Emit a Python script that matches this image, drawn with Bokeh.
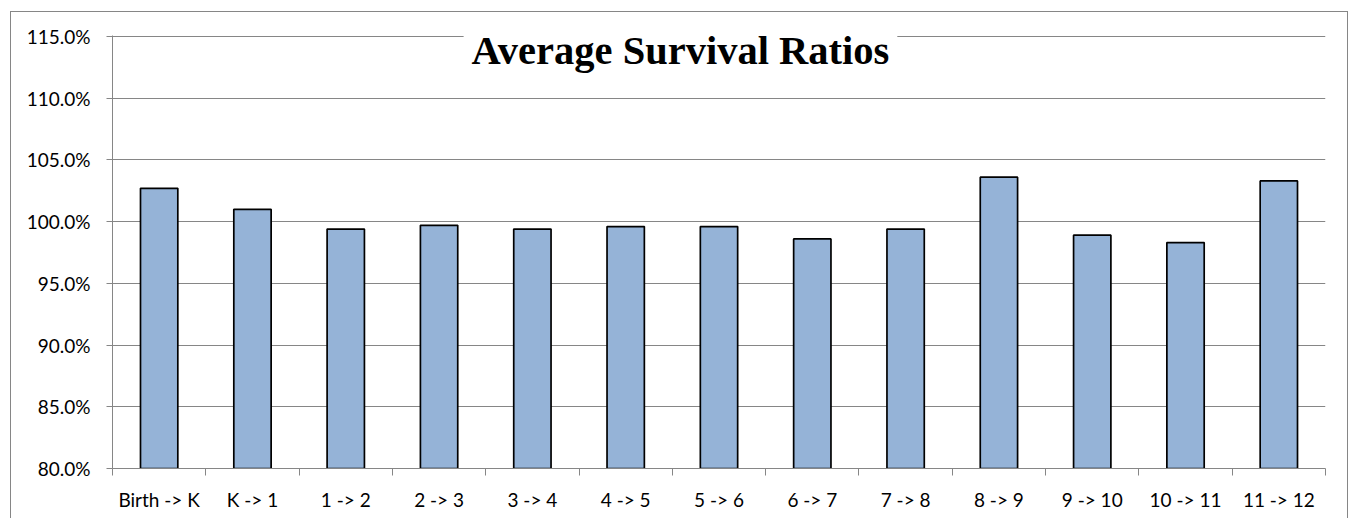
from bokeh.plotting import figure
from bokeh.models import (Range1d, LinearAxis, FixedTicker, NumeralTickFormatter, Label,
                          ColumnDataSource, InlineStyleSheet)
from bokeh.embed import file_html
from bokeh.resources import INLINE

# ---- data ----
categories = ["Birth -> K", "K -> 1", "1 -> 2", "2 -> 3", "3 -> 4", "4 -> 5", "5 -> 6",
              "6 -> 7", "7 -> 8", "8 -> 9", "9 -> 10", "10 -> 11", "11 -> 12"]
ratios = [1.027, 1.010, 0.994, 0.997, 0.994, 0.996, 0.996, 0.986, 0.994, 1.036, 0.989, 0.983, 1.033]
y_ticks = [0.80, 0.85, 0.90, 0.95, 1.00, 1.05, 1.10, 1.15]
title_text = "Average Survival Ratios"

GRID = "#868686"
LABEL_FONT = "Lato"

n = len(categories)
centers = [i + 0.5 for i in range(n)]
bounds = list(range(n + 1))
src = ColumnDataSource(dict(x=centers, top=ratios, cat=categories))

p = figure(width=1349, height=518, output_backend="svg", toolbar_location=None,
           x_range=Range1d(0, n), y_range=Range1d(y_ticks[0], y_ticks[-1] + 0.0008),
           x_axis_location=None, y_axis_location=None,
           min_border_left=112, min_border_right=24, min_border_top=35, min_border_bottom=50)
p.outline_line_color = None
p.background_fill_color = "white"
p.border_fill_color = "white"
p.stylesheets = [InlineStyleSheet(css="""
:host { position: relative; }
:host::after { content: ''; position: absolute; left: 10px; top: 11px; width: 1338px; height: 507px;
  border: 1px solid #868686; border-bottom: none; box-sizing: border-box; pointer-events: none; z-index: 50; }
""")]

# y axis
yax = LinearAxis(ticker=FixedTicker(ticks=y_ticks), formatter=NumeralTickFormatter(format="0.0%"))
yax.axis_line_color = GRID
yax.major_tick_line_color = GRID
yax.major_tick_out = 6
yax.major_tick_in = 0
yax.minor_tick_line_color = None
yax.major_label_text_font = LABEL_FONT
yax.major_label_text_font_size = "19px"
yax.major_label_text_color = "black"
yax.major_label_standoff = 16
p.add_layout(yax, "left")

# category axis: labels at category centres, tick marks at category boundaries
cax = LinearAxis(ticker=FixedTicker(ticks=centers, minor_ticks=bounds),
                 major_label_overrides={c: lab for c, lab in zip(centers, categories)})
cax.axis_line_color = GRID
cax.major_tick_line_color = None
cax.major_tick_out = 7
cax.major_tick_in = 0
cax.minor_tick_line_color = GRID
cax.minor_tick_out = 7
cax.minor_tick_in = 0
cax.major_label_text_font = LABEL_FONT
cax.major_label_text_font_size = "19px"
cax.major_label_text_color = "black"
cax.major_label_standoff = 12
p.add_layout(cax, "below")

p.xgrid.visible = False
p.ygrid.ticker = FixedTicker(ticks=y_ticks)
p.ygrid.grid_line_color = GRID
p.ygrid.grid_line_width = 1

p.vbar(x="x", top="top", bottom=y_ticks[0], width=0.40, source=src,
       fill_color="#95B3D7", line_color="black", line_width=1.7)

title = Label(x=6.087, y=1.1385, text=title_text, text_font="Liberation Serif",
              text_font_style="bold", text_font_size="40.5px", text_align="center",
              text_baseline="middle", text_color="black",
              background_fill_color="white", padding=8)
p.add_layout(title)

open("out.html", "w").write(file_html(p, INLINE))
